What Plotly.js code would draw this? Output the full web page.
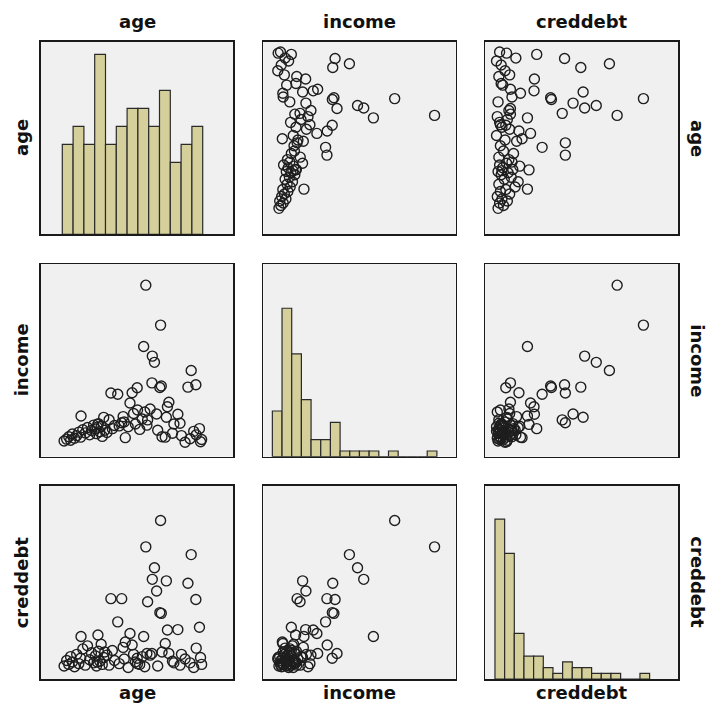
<!DOCTYPE html>
<html>
<head>
<meta charset="utf-8">
<script src="https://cdn.plot.ly/plotly-3.0.1.min.js"></script>
<style>html,body{margin:0;padding:0;background:#fff;}#chart{width:710px;height:706px;}</style>
</head>
<body>
<div id="chart"></div>
<script>
// ---- data ----
const variables = ["age", "income", "creddebt"];

const age = [43.2,47.3,42.6,45.0,45.6,55.8,57.1,54.9,44.9,47.5,47.1,33.5,35.4,40.8,39.4,38.8,49.6,49.2,40.9,44.4,
  46.2,52.1,25.2,48.9,51.0,36.5,43.7,58.1,29.9,37.5,58.4,57.2,54.1,53.1,48.6,47.7,20.5,21.2,21.8,22.3,
  22.8,23.4,24.0,24.6,25.1,25.7,26.4,27.0,27.6,28.1,28.7,29.2,29.5,30.0,30.4,30.8,31.1,31.5,31.8,29.7,
  32.4,33.0,33.9,34.5,35.8,36.9,37.2,38.3,39.8,40.3,41.5,42.2,42.9,43.5,46.5,50.6,52.7,55.5,56.5,58.7];

const income = [419,316,261,236,220,199,162,156,167,159,155,141,137.5,154.6,141.7,115,117,105.6,97,99.6,
  86.7,86,81.6,78.2,60.9,64,71.5,49,60,25.7,15,33,14,31,27,28,17,22,28,19,
  35,24,31,40,27,46,38,52,33,44,58,48,36,62,41,55,29,78,45,53,
  39,72,49,57,56,80,66,54,88,61,47,74,92,58,45,37,63,23,42,21];

const creddebt = [15.8,19.2,4.2,11.6,13.1,14.8,9.0,11.1,2.0,7.2,7.3,9.1,6.1,1.4,3.1,4.6,2.0,5.05,0.7,1.8,
  10.1,5.1,4.2,11.4,0.8,9.1,8.7,5.4,4.4,3.5,1.5,2.7,1.3,1.9,3.3,2.2,0.4,1.1,0.6,1.6,
  0.9,0.3,1.9,0.7,1.4,2.6,0.5,3.0,1.2,2.1,0.8,1.7,0.4,2.3,1.0,3.2,0.6,1.5,2.2,0.9,
  1.8,0.5,2.4,1.1,0.7,2.8,1.3,0.2,1.9,0.9,0.6,1.6,0.3,2.0,0.4,1.0,0.5,0.8,0.2,0.6];

// histogram bin counts
const ageCounts = [5,6,5,10,5,6,7,7,6,8,4,5,6];
const incomeCounts = [8,26,18,10,3,3,6,1,1,1,1,0,1,0,0,0,1];
const creddebtCounts = [28,22,8,4,4,2,1,3,2,2,1,1,1,0,0,1];
const binStart = {age: 20, income: 0, creddebt: 0};
const binWidth = {age: 3, income: 25, creddebt: 1.25};

// ---- drawing ----
const data = {age: age, income: income, creddebt: creddebt};
const counts = {age: ageCounts, income: incomeCounts, creddebt: creddebtCounts};

const W = 710, H = 706;
const xPix = [[40.7,233.3],[263.3,455.7],[485,678.3]];
const yPix = [[41.7,234.3],[264,456.7],[485.7,679]];
const xDom = xPix.map(p => [p[0]/W, p[1]/W]);
const yDom = yPix.map(p => [1 - p[1]/H, 1 - p[0]/H]);

const colRange = {age: [14, 67.5], income: [-23.4, 473.6], creddebt: [-1.29, 23.71]};
const rowRange = {age: [14.16, 61.2], income: [-23.4, 473.6], creddebt: [-1.29, 23.71]};
const histMax = {age: 10.7, income: 33.75, creddebt: 33.85};

const traces = [];
const layout = {
  width: W, height: H,
  margin: {l: 0, r: 0, t: 0, b: 0},
  paper_bgcolor: "#ffffff",
  plot_bgcolor: "#f0f0f0",
  showlegend: false,
  bargap: 0,
  annotations: []
};

const axBase = {
  showgrid: false, zeroline: false, showticklabels: false, ticks: "",
  showline: true, mirror: true, linecolor: "#1a1a1a", linewidth: 1.5
};

for (let r = 0; r < 3; r++) {
  for (let c = 0; c < 3; c++) {
    const i = r * 3 + c + 1;
    const xn = "x" + (i === 1 ? "" : i), yn = "y" + (i === 1 ? "" : i);
    const vx = variables[c], vy = variables[r];
    layout["xaxis" + (i === 1 ? "" : i)] = Object.assign({}, axBase, {
      domain: xDom[c], anchor: yn, range: colRange[vx]
    });
    if (r === c) {
      const cnt = counts[vx];
      const centers = cnt.map((_, k) => binStart[vx] + (k + 0.5) * binWidth[vx]);
      traces.push({
        type: "bar", x: centers, y: cnt, width: binWidth[vx],
        xaxis: xn, yaxis: yn,
        marker: {color: "#d5d09b", line: {color: "#2a2a2a", width: 1.2}},
        hoverinfo: "x+y"
      });
      layout["yaxis" + (i === 1 ? "" : i)] = Object.assign({}, axBase, {
        domain: yDom[r], anchor: xn, range: [0, histMax[vx]]
      });
    } else {
      traces.push({
        type: "scatter", mode: "markers", x: data[vx], y: data[vy],
        xaxis: xn, yaxis: yn,
        marker: {symbol: "circle-open", size: 10, color: "#1e1e1e", line: {width: 1.4}},
        hoverinfo: "x+y"
      });
      layout["yaxis" + (i === 1 ? "" : i)] = Object.assign({}, axBase, {
        domain: yDom[r], anchor: xn, range: rowRange[vy]
      });
    }
  }
}

const labFont = {family: "DejaVu Sans, Arial, sans-serif", size: 18, color: "#111111"};
for (let k = 0; k < 3; k++) {
  const xc = (xDom[k][0] + xDom[k][1]) / 2;
  const yc = (yDom[k][0] + yDom[k][1]) / 2;
  layout.annotations.push({text: "<b>" + variables[k] + "</b>", xref: "paper", yref: "paper",
    x: xc, y: 1 - 21 / H, xanchor: "center", yanchor: "middle", showarrow: false, font: labFont});
  layout.annotations.push({text: "<b>" + variables[k] + "</b>", xref: "paper", yref: "paper",
    x: xc, y: 1 - 692 / H, xanchor: "center", yanchor: "middle", showarrow: false, font: labFont});
  layout.annotations.push({text: "<b>" + variables[k] + "</b>", xref: "paper", yref: "paper",
    x: 21 / W, y: yc, xanchor: "center", yanchor: "middle", textangle: -90, showarrow: false, font: labFont});
  layout.annotations.push({text: "<b>" + variables[k] + "</b>", xref: "paper", yref: "paper",
    x: 698 / W, y: yc, xanchor: "center", yanchor: "middle", textangle: 90, showarrow: false, font: labFont});
}

Plotly.newPlot("chart", traces, layout, {staticPlot: true, displayModeBar: false});
</script>
</body>
</html>
